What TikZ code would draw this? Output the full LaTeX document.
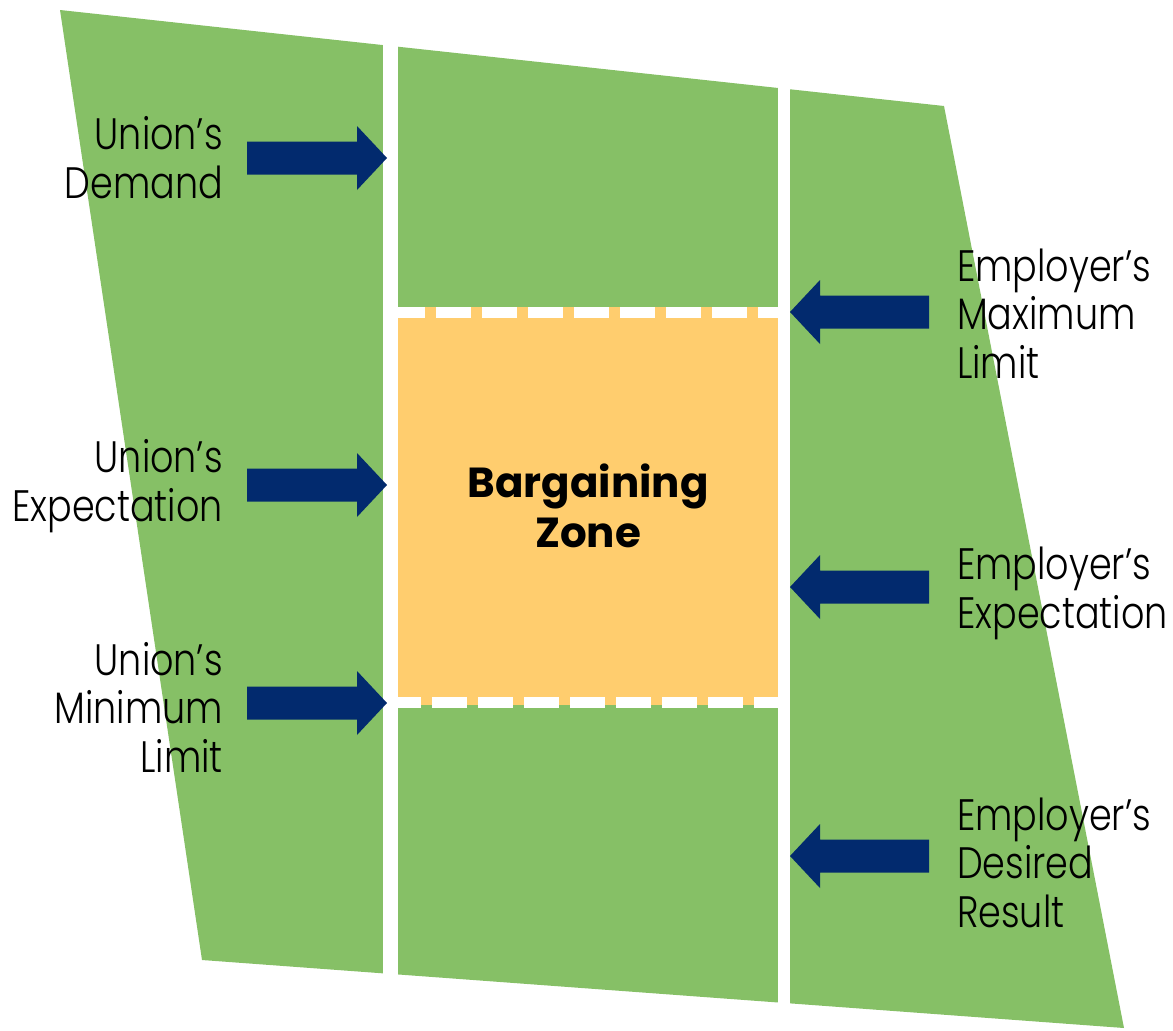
\documentclass[tikz,border=0pt]{standalone}
\usepackage{fontspec}
\setmainfont{Poppins}
\newfontfamily\labelfont[FakeStretch=0.83]{Poppins Light}
\definecolor{zonegreen}{RGB}{134,192,102}
\definecolor{zoneorange}{RGB}{255,205,110}
\definecolor{arrowblue}{RGB}{2,42,110}
\tikzset{
  lbl/.style={font=\labelfont\fontsize{44}{48.5}\selectfont, inner sep=0pt, text=black},
  leftlbl/.style={lbl, align=right, anchor=base east},
  rightlbl/.style={lbl, align=left, anchor=base west},
  rarr/.pic={\fill[arrowblue] (-140,-16.5) -- (-30,-16.5) -- (-30,-32) -- (0,0) -- (-30,32) -- (-30,16.5) -- (-140,16.5) -- cycle;},
  larr/.pic={\fill[arrowblue] (139,-16.5) -- (30,-16.5) -- (30,-32) -- (0,0) -- (30,32) -- (30,16.5) -- (139,16.5) -- cycle;},
  sep/.style={white, line width=11pt}
}
\begin{document}
\begin{tikzpicture}[x=1pt, y=-1pt]
\useasboundingbox (0,0) rectangle (1173,1031);
% outer green shape
\fill[zonegreen] (60,10) -- (944,106) -- (1124,1028) -- (202,960) -- cycle;
% white column gaps
\fill[white] (383,0) rectangle (398,1031);
\fill[white] (778,0) rectangle (790,1031);
% bargaining zone
\node[fill=zoneorange, minimum width=380pt, minimum height=398pt, inner sep=0pt,
      font=\bfseries\fontsize{42}{50}\selectfont, align=center] (zone) at (588,506) {Bargaining\\Zone};
\draw[sep, dash pattern=on 35pt off 11pt, dash phase=8pt] (398,312.5) -- (778,312.5);
\draw[sep, dash pattern=on 35pt off 11pt, dash phase=12pt] (398,702.5) -- (778,702.5);
% arrows
\pic (a1) at (387,158) {rarr};
\pic (a2) at (387,485) {rarr};
\pic (a3) at (387,703) {rarr};
\pic (b1) at (790,312) {larr};
\pic (b2) at (790,587) {larr};
\pic (b3) at (790,856) {larr};
% labels (anchored at the baseline of the last line)
\node[leftlbl] (t1) at (223,198) {Union’s\\Demand};
\node[leftlbl] (t2) at (223,521) {Union’s\\Expectation};
\node[leftlbl] (t3) at (223,772) {Union’s\\Minimum\\Limit};
\node[rightlbl] (u1) at (957,378) {Employer’s\\Maximum\\Limit};
\node[rightlbl] (u2) at (957,628) {Employer’s\\Expectation};
\node[rightlbl] (u3) at (957,927) {Employer’s\\Desired\\Result};
\end{tikzpicture}
\end{document}
